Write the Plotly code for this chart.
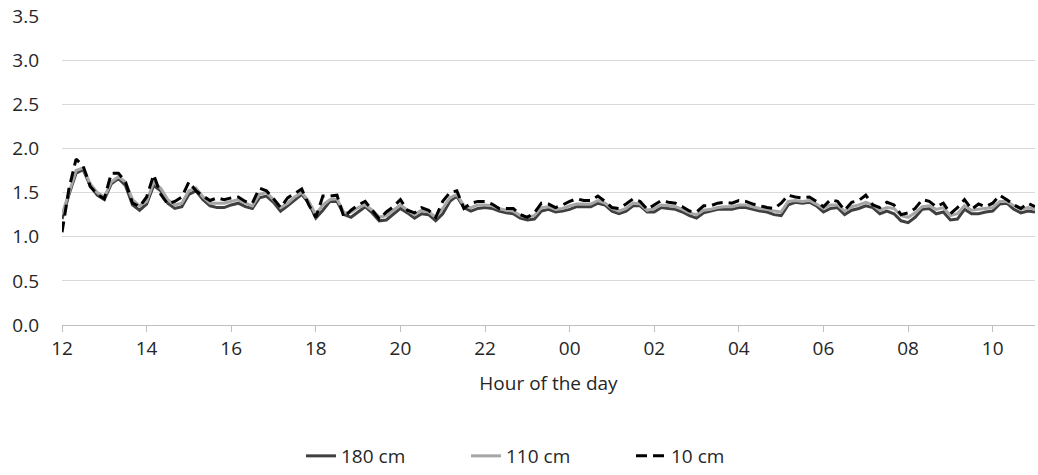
import plotly.graph_objects as go

# time axis: 10-minute steps from 12:00 (0 h) to 11:00 next day (23 h)
hours = [k / 6 for k in range(139)]
tick_positions = [0, 2, 4, 6, 8, 10, 12, 14, 16, 18, 20, 22]
tick_labels = ["12", "14", "16", "18", "20", "22", "00", "02", "04", "06", "08", "10"]

s180 = [
    1.20, 1.48, 1.72, 1.76, 1.58, 1.47,
    1.42, 1.60, 1.66, 1.58, 1.36, 1.30,
    1.37, 1.58, 1.52, 1.38, 1.32, 1.34,
    1.48, 1.52, 1.42, 1.35, 1.33, 1.33,
    1.36, 1.38, 1.34, 1.32, 1.44, 1.46,
    1.39, 1.29, 1.35, 1.41, 1.48, 1.38,
    1.21, 1.30, 1.40, 1.40, 1.25, 1.22,
    1.28, 1.34, 1.27, 1.18, 1.19, 1.26,
    1.32, 1.27, 1.21, 1.26, 1.25, 1.18,
    1.26, 1.40, 1.46, 1.33, 1.29, 1.32,
    1.33, 1.32, 1.29, 1.27, 1.26, 1.21,
    1.19, 1.20, 1.29, 1.31, 1.28, 1.29,
    1.31, 1.34, 1.34, 1.34, 1.38, 1.36,
    1.29, 1.26, 1.29, 1.35, 1.35, 1.28,
    1.28, 1.33, 1.32, 1.31, 1.28, 1.24,
    1.21, 1.27, 1.29, 1.31, 1.31, 1.31,
    1.33, 1.33, 1.31, 1.29, 1.28, 1.25,
    1.24, 1.36, 1.39, 1.38, 1.39, 1.35,
    1.28, 1.32, 1.33, 1.25, 1.30, 1.32,
    1.35, 1.33, 1.26, 1.29, 1.26, 1.18,
    1.16, 1.22, 1.31, 1.32, 1.26, 1.28,
    1.19, 1.20, 1.31, 1.26, 1.26, 1.28,
    1.29, 1.37, 1.38, 1.31, 1.27, 1.29,
    1.28,
]

s110 = [
    1.25, 1.50, 1.75, 1.78, 1.60, 1.50,
    1.45, 1.62, 1.68, 1.62, 1.42, 1.35,
    1.40, 1.62, 1.55, 1.42, 1.36, 1.38,
    1.52, 1.55, 1.45, 1.38, 1.38, 1.38,
    1.40, 1.42, 1.38, 1.35, 1.48, 1.50,
    1.42, 1.33, 1.38, 1.45, 1.50, 1.40,
    1.25, 1.36, 1.42, 1.43, 1.27, 1.28,
    1.33, 1.36, 1.30, 1.22, 1.24, 1.30,
    1.36, 1.30, 1.25, 1.30, 1.28, 1.22,
    1.32, 1.44, 1.48, 1.35, 1.33, 1.36,
    1.36, 1.35, 1.32, 1.30, 1.29, 1.24,
    1.22, 1.24, 1.33, 1.34, 1.31, 1.32,
    1.35, 1.37, 1.37, 1.37, 1.41, 1.38,
    1.32, 1.29, 1.32, 1.38, 1.37, 1.30,
    1.32, 1.36, 1.35, 1.34, 1.31, 1.27,
    1.25, 1.30, 1.31, 1.33, 1.34, 1.34,
    1.36, 1.36, 1.34, 1.32, 1.31, 1.29,
    1.28, 1.40, 1.41, 1.40, 1.41, 1.37,
    1.32, 1.36, 1.36, 1.29, 1.34, 1.36,
    1.39, 1.36, 1.30, 1.33, 1.32, 1.24,
    1.22, 1.27, 1.34, 1.35, 1.31, 1.33,
    1.24, 1.26, 1.35, 1.30, 1.31, 1.32,
    1.33, 1.40, 1.40, 1.35, 1.31, 1.33,
    1.31,
]

s10 = [
    1.05, 1.55, 1.88, 1.80, 1.57, 1.48,
    1.43, 1.72, 1.72, 1.62, 1.38, 1.34,
    1.45, 1.70, 1.48, 1.37, 1.40, 1.45,
    1.62, 1.52, 1.46, 1.41, 1.44, 1.42,
    1.44, 1.45, 1.40, 1.38, 1.55, 1.52,
    1.43, 1.33, 1.44, 1.49, 1.54, 1.36,
    1.22, 1.46, 1.46, 1.47, 1.22, 1.30,
    1.36, 1.40, 1.30, 1.20, 1.28, 1.34,
    1.42, 1.30, 1.27, 1.33, 1.30, 1.22,
    1.40, 1.50, 1.52, 1.32, 1.38, 1.40,
    1.40, 1.37, 1.32, 1.32, 1.32, 1.25,
    1.22, 1.27, 1.38, 1.37, 1.33, 1.36,
    1.40, 1.43, 1.41, 1.41, 1.46, 1.40,
    1.33, 1.32, 1.37, 1.43, 1.40, 1.31,
    1.36, 1.41, 1.39, 1.38, 1.34, 1.29,
    1.28, 1.35, 1.35, 1.38, 1.39, 1.38,
    1.41, 1.40, 1.37, 1.35, 1.33, 1.32,
    1.38, 1.47, 1.45, 1.44, 1.45, 1.40,
    1.34, 1.42, 1.40, 1.30, 1.39, 1.41,
    1.47, 1.36, 1.33, 1.39, 1.36, 1.25,
    1.27, 1.32, 1.42, 1.40, 1.34, 1.38,
    1.26, 1.33, 1.42, 1.31, 1.37, 1.34,
    1.38, 1.47, 1.42, 1.36, 1.32, 1.38,
    1.34,
]

font_family = "Open Sans, Noto Sans, Liberation Sans, sans-serif"

fig = go.Figure()
fig.add_trace(go.Scatter(x=hours, y=s180, mode="lines", name="180 cm",
                         line=dict(color="#404040", width=3)))
fig.add_trace(go.Scatter(x=hours, y=s110, mode="lines", name="110 cm",
                         line=dict(color="#a6a6a6", width=3)))
fig.add_trace(go.Scatter(x=hours, y=s10, mode="lines", name="10 cm",
                         line=dict(color="#000000", width=3, dash="11px,6px")))

fig.update_layout(
    width=1038, height=475,
    margin=dict(l=62, r=3, t=14, b=150),
    paper_bgcolor="white", plot_bgcolor="white",
    font=dict(family=font_family, size=19, color="#262626"),
    showlegend=True,
    legend=dict(orientation="h", x=0.5, xanchor="center",
                yref="container", y=0.0, yanchor="bottom",
                font=dict(size=19), traceorder="normal",
                entrywidth=120, entrywidthmode="pixels"),
)
fig.update_xaxes(
    range=[0, 23], tickmode="array", tickvals=tick_positions, ticktext=tick_labels,
    showgrid=False, zeroline=False, showline=True, linecolor="#bfbfbf", linewidth=1,
    ticks="outside", tickcolor="#bfbfbf", ticklen=6,
    title=dict(text="Hour of the day", standoff=16, font=dict(size=19)),
)
fig.update_yaxes(
    range=[0, 3.5], dtick=0.5, tickformat=".1f",
    showgrid=True, gridcolor="#d9d9d9", gridwidth=1,
    zeroline=False, showline=False, ticks="", ticklabelstandoff=22,
)

fig.write_html("out.html")
